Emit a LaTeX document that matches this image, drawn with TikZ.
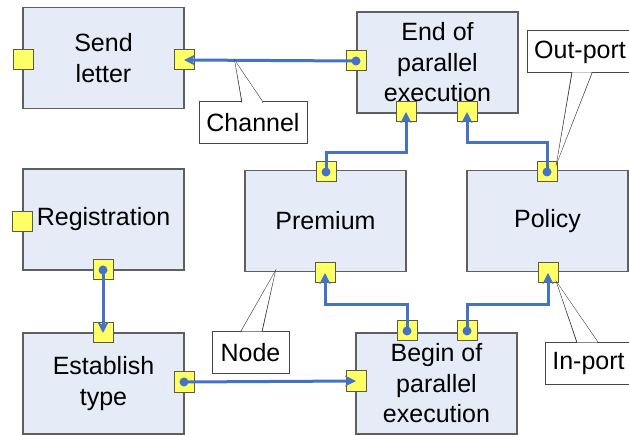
\documentclass[tikz,border=0pt]{standalone}
\usepackage{fontspec}
\setmainfont{Liberation Sans}
\usetikzlibrary{arrows.meta}
\definecolor{boxfill}{RGB}{230,236,247}
\definecolor{boxline}{RGB}{95,95,95}
\definecolor{noteline}{RGB}{70,70,70}
\definecolor{portfill}{RGB}{255,255,102}
\definecolor{portline}{RGB}{90,90,70}
\definecolor{flow}{RGB}{68,114,196}
\begin{document}
\begin{tikzpicture}[x=1pt,y=-1pt,
  block/.style={draw=boxline, fill=boxfill, line width=1.2pt,
    minimum width=161pt, minimum height=101pt, inner sep=0pt,
    align=center, font=\fontsize{25}{30.5}\selectfont},
  port/.style={draw=portline, fill=portfill, line width=1pt,
    minimum size=20pt, inner sep=0pt},
  conn/.style={draw=flow, line width=3pt, line join=miter,
    -{Stealth[length=11pt,width=11pt,inset=3pt]}},
  src/.style={fill=flow},
  note/.style={draw=noteline, fill=white, line width=1pt, inner sep=0pt,
    minimum height=42pt, font=\fontsize{25}{30}\selectfont},
  pointer/.style={draw=noteline, fill=white, line width=1pt, line join=miter}
]
\useasboundingbox (0,0) rectangle (629,435);

% process blocks
\node[block] (send)  at (103.5,58)   {Send\\letter};
\node[block] (endp)  at (437.5,62.5) {End of\\parallel\\execution};
\node[block] (reg)   at (103.5,219.5){Registration};
\node[block] (prem)  at (325.5,221)  {Premium};
\node[block] (pol)   at (547.5,221)  {Policy};
\node[block] (est)   at (103.5,383.5){Establish\\type};
\node[block] (begp)  at (436.5,383.5){Begin of\\parallel\\execution};

% ports
\node[port] (sL)  at (23,60)   {};
\node[port] (sR)  at (184,60)  {};
\node[port] (eL)  at (356,61)  {};
\node[port] (eB1) at (406,112) {};
\node[port] (eB2) at (467,112) {};
\node[port] (rL)  at (22,222)  {};
\node[port] (rB)  at (103,270) {};
\node[port] (pT)  at (326,172) {};
\node[port] (pB)  at (325,273) {};
\node[port] (yT)  at (547,172) {};
\node[port] (yB)  at (548,273) {};
\node[port] (tT)  at (103,333) {};
\node[port] (tR)  at (184,382) {};
\node[port] (bT1) at (407,331) {};
\node[port] (bT2) at (467,331) {};
\node[port] (bL)  at (356,381) {};

% channels
\draw[conn] (eL.center) -- (sR.center);
\draw[conn] (pT.center) -- (pT.center |- 0,153) -| (eB1.center);
\draw[conn] (yT.center) -- (yT.center |- 0,143) -| (eB2.center);
\draw[conn] (bT1.center) -- (bT1.center |- 0,305) -| (pB.center);
\draw[conn] (bT2.center) -- (bT2.center |- 0,305) -| (yB.center);
\draw[conn] (rB.center) -- (tT.center);
\draw[conn] (tR.center) -- (bL.center);
\foreach \p in {eL,pT,yT,bT1,bT2,rB,tR}
  \fill[src] (\p.center) circle (4.5pt);

% callouts
\node[note, minimum width=108pt] (chan) at (253,123) {Channel};
\coordinate (chanTip) at (235,61);
\path[pointer] (242,102.5) -- (chanTip) -- (263,102.5);
\fill[white] (242.5,102) -- (chanTip) -- (262.5,102) -- cycle;

\node[note, minimum width=77pt] (nodeN) at (250.5,352.5) {Node};
\coordinate (nodeTip) at (275,272);
\path[pointer] (241,331.5) -- (nodeTip) -- (262,331.5);
\fill[white] (241.5,331) -- (nodeTip) -- (261.5,331) -- cycle;

\node[note, minimum width=87pt] (inp) at (588.5,363.5) {In-port};
\coordinate (inTip) at (557,283);
\path[pointer] (577,342.5) -- (inTip) -- (598,342.5);
\fill[white] (577.5,342) -- (inTip) -- (597.5,342) -- cycle;

\node[note, minimum width=106pt] (outp) at (580,52) {Out-port};
\coordinate (outTip) at (557,162);
\path[pointer] (572,72.5) -- (outTip) -- (592,72.5);
\fill[white] (572.5,73) -- (outTip) -- (591.5,73) -- cycle;
\end{tikzpicture}
\end{document}
